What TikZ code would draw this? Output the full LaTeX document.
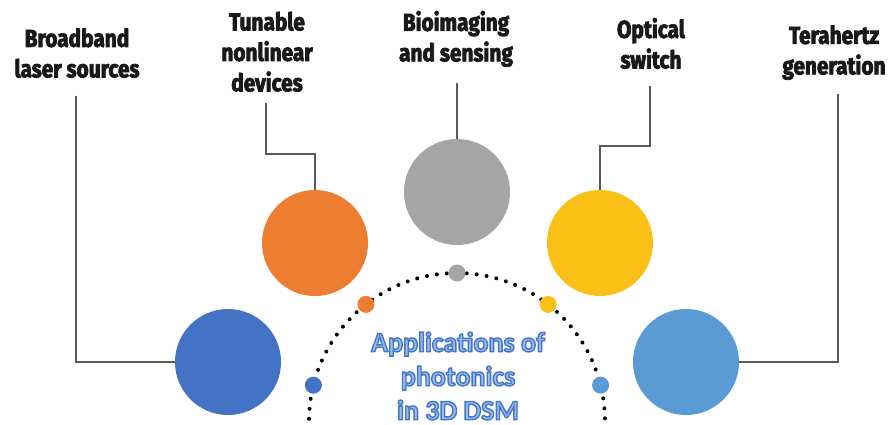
\documentclass[tikz,border=0pt]{standalone}
\usepackage{fontspec}
\setmainfont{Fira Sans}[FakeStretch=0.85, BoldFeatures={FakeBold=3}]
\newfontfamily\centerfont{Carlito}[BoldFeatures={FakeBold=5}]
\definecolor{cblue}{HTML}{4472C4}
\definecolor{corange}{HTML}{ED7D31}
\definecolor{cgray}{HTML}{A5A5A5}
\definecolor{cyellow}{HTML}{FBC016}
\definecolor{clblue}{HTML}{5B9BD5}
\definecolor{linegray}{HTML}{5A5A5A}
\definecolor{txtfill}{RGB}{140,178,226}
\newcommand\olt[1]{\special{pdf:bcolor [0.60 0.74 0.91] [0.27 0.46 0.78]}#1\special{pdf:ecolor}}
\begin{document}
\begin{tikzpicture}[x=1pt,y=1pt,
  big/.style={circle, minimum size=106pt, inner sep=0pt, outer sep=0pt},
  small/.style={circle, minimum size=17pt, inner sep=0pt, outer sep=0pt},
  conn/.style={draw=linegray, line width=1.2pt},
  lbl/.style={font=\bfseries\fontsize{24.5}{30.5}\selectfont, align=center, inner sep=0pt, anchor=south, text=black!90},
  dotarc/.style={line width=4pt, line cap=round, dash pattern=on 0pt off 10pt}]
\useasboundingbox (0,0) rectangle (891,424);
% big circles
\node[big, fill=cblue]   (b1) at (228,62)  {};
\node[big, fill=corange] (b2) at (315,181) {};
\node[big, fill=cgray]   (b3) at (457,232) {};
\node[big, fill=cyellow] (b4) at (600,181) {};
\node[big, fill=clblue]  (b5) at (686,62)  {};
% dotted arc
\coordinate (o) at (457,3);
\draw[dotarc] ([shift={(183:148)}]o) arc[start angle=183, end angle=-3, radius=148];
% small dots on arc
\node[small, fill=cblue]   (s1) at ([shift={(166:148)}]o) {};
\node[small, fill=corange] (s2) at ([shift={(128:148)}]o) {};
\node[small, fill=cgray]   (s3) at ([shift={(90:148)}]o)  {};
\node[small, fill=cyellow] (s4) at ([shift={(52:148)}]o)  {};
\node[small, fill=clblue]  (s5) at ([shift={(14:148)}]o)  {};
% connector tops
\coordinate (t1) at (76,328);
\coordinate (t2) at (266,321);
\coordinate (t3) at (457,341);
\coordinate (t4) at (650,338);
\coordinate (t5) at (838,330);
% labels
\node[lbl] (l1) at (77,346)  {Broadband\\laser sources};
\node[lbl] (l2) at (267,332) {Tunable\\nonlinear\\devices};
\node[lbl] (l3) at (456,357) {Bioimaging\\and sensing};
\node[lbl] (l4) at (651,355) {Optical\\switch};
\node[lbl] (l5) at (834,344) {Terahertz\\generation};
% connectors
\draw[conn] (t1) |- (b1.west);
\draw[conn] (t2) -- (266,270) -| (b2.north);
\draw[conn] (t3) -- (b3.north);
\draw[conn] (t4) -- (650,278) -| (b4.north);
\draw[conn] (t5) |- (b5.east);
% centre text
\node[font=\centerfont\bfseries\fontsize{28}{34}\selectfont, align=center, inner sep=0pt] (c) at (458,48)
  {\olt{Applications of}\\\olt{photonics}\\\olt{in 3D DSM}};
\end{tikzpicture}
\end{document}
